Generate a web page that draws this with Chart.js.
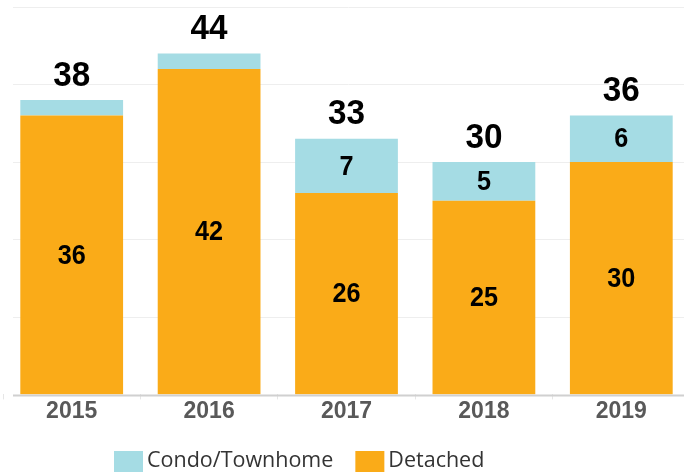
<!DOCTYPE html>
<html>
<head>
<meta charset="utf-8">
<script src="https://cdn.jsdelivr.net/npm/chart.js@4"></script>
<style>
  html, body { margin: 0; padding: 0; background: #fff; }
  #wrap { width: 690px; height: 472px; }
</style>
</head>
<body>
<div id="wrap"><canvas id="grafico"></canvas></div>
<script>
const anos = ["2015", "2016", "2017", "2018", "2019"];
const detached = [36, 42, 26, 25, 30];
const condo = [2, 2, 7, 5, 6];
const totais = [38, 44, 33, 30, 36];
const linhasGrade = [10, 20, 30, 40, 50];

// linhas de grade e eixo, mais curtas que a área das categorias
const grade = {
  id: "grade",
  beforeDatasetsDraw(chart) {
    const ctx = chart.ctx;
    const y = chart.scales.y;
    ctx.save();
    ctx.strokeStyle = "#eeeeee";
    ctx.lineWidth = 1;
    linhasGrade.forEach((v) => {
      const py = Math.round(y.getPixelForValue(v)) + 0.5;
      ctx.beginPath();
      ctx.moveTo(13, py);
      ctx.lineTo(684, py);
      ctx.stroke();
    });
    ctx.restore();
  },
  afterDatasetsDraw(chart) {
    const ctx = chart.ctx;
    const py = chart.scales.y.getPixelForValue(0);
    ctx.save();
    ctx.strokeStyle = "#d0d0d0";
    ctx.lineWidth = 2;
    ctx.beginPath();
    ctx.moveTo(13, py + 1);
    ctx.lineTo(684, py + 1);
    ctx.stroke();
    ctx.restore();
  }
};

// texto um pouco condensado, como no original
function textoEstreito(ctx, txt, x, y, escala) {
  ctx.save();
  ctx.translate(x, y);
  ctx.scale(escala, 1);
  ctx.fillText(txt, 0, 0);
  ctx.restore();
}

// plugin simples para escrever os valores nas barras
const rotulos = {
  id: "rotulos",
  afterDatasetsDraw(chart) {
    const ctx = chart.ctx;
    ctx.save();
    ctx.textAlign = "center";
    ctx.textBaseline = "middle";
    ctx.fillStyle = "#000";
    const metaDet = chart.getDatasetMeta(0);
    const metaCon = chart.getDatasetMeta(1);
    metaDet.data.forEach((bar, i) => {
      ctx.font = "bold 28px 'Liberation Sans', Arial, sans-serif";
      textoEstreito(ctx, detached[i], bar.x, (bar.y + bar.base) / 2 + 1, 0.9);
      const c = metaCon.data[i];
      if (condo[i] >= 5) {
        textoEstreito(ctx, condo[i], c.x, (c.y + c.base) / 2 + 1, 0.9);
      }
      ctx.font = "bold 35px 'Liberation Sans', Arial, sans-serif";
      textoEstreito(ctx, totais[i], c.x, c.y - 24, 0.95);
    });
    ctx.restore();
  }
};

// legenda desenhada à mão (fica deslocada para a esquerda no original)
const legenda = {
  id: "legenda",
  afterDraw(chart) {
    const ctx = chart.ctx;
    ctx.save();
    ctx.font = "21.5px 'Open Sans', sans-serif";
    ctx.textBaseline = "middle";
    ctx.textAlign = "left";
    let x = 114;
    const yMeio = 461;
    [1, 0].forEach((idx) => {
      const ds = chart.data.datasets[idx];
      ctx.fillStyle = ds.backgroundColor;
      ctx.fillRect(x, yMeio - 10, 29, 21);
      ctx.fillStyle = "#333";
      ctx.fillText(ds.label, x + 33, yMeio);
      x += 33 + ctx.measureText(ds.label).width + 22;
    });
    ctx.restore();
  }
};

new Chart(document.getElementById("grafico"), {
  type: "bar",
  data: {
    labels: anos,
    datasets: [
      {
        label: "Detached",
        data: detached,
        backgroundColor: "#FAAB18",
        stack: "s"
      },
      {
        label: "Condo/Townhome",
        data: condo,
        backgroundColor: "#A5DCE4",
        stack: "s"
      }
    ]
  },
  options: {
    responsive: true,
    maintainAspectRatio: false,
    animation: false,
    datasets: {
      bar: { categoryPercentage: 0.748, barPercentage: 1.0 }
    },
    layout: { padding: { top: 7, left: 3, right: -3.5, bottom: 49 } },
    scales: {
      x: {
        stacked: true,
        grid: {
          display: true,
          drawOnChartArea: false,
          drawTicks: true,
          tickLength: 5,
          color: "#e6e6e6",
          offset: true
        },
        border: { display: false },
        ticks: {
          color: "#595959",
          font: { family: "'Liberation Sans', Arial, sans-serif", size: 23, weight: "bold" },
          padding: -2
        }
      },
      y: {
        stacked: true,
        min: 0,
        max: 50,
        display: true,
        ticks: { display: false, stepSize: 10 },
        grid: { display: false, drawTicks: false },
        border: { display: false }
      }
    },
    plugins: {
      legend: { display: false },
      tooltip: { enabled: false }
    }
  },
  plugins: [grade, rotulos, legenda]
});
</script>
</body>
</html>
